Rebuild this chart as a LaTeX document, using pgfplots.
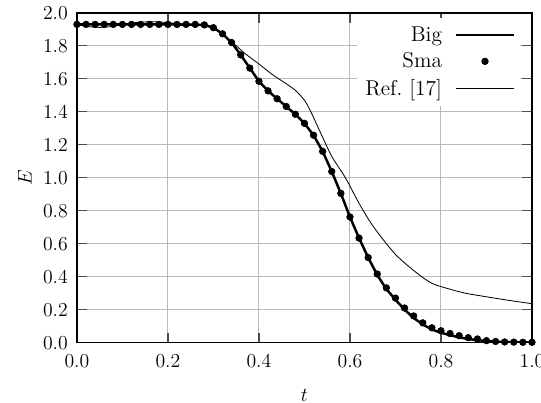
\documentclass[border=0pt]{standalone}
\usepackage{pgfplots}
\pgfplotsset{compat=1.18}
\newcommand{\bigf}{\fontsize{13}{15.6}\selectfont}
\begin{document}
\begin{tikzpicture}
\begin{axis}[
  scale only axis,
  width=276pt, height=200pt,
  xmin=0, xmax=1, ymin=0, ymax=2,
  xtick={0,0.2,...,1.0}, ytick={0,0.2,...,2.0},
  tick label style={font=\bigf},
  label style={font=\bigf},
  xticklabel style={yshift=-4pt, /pgf/number format/.cd, fixed, fixed zerofill, precision=1},
  yticklabel style={xshift=-2pt, /pgf/number format/.cd, fixed, fixed zerofill, precision=1},
  grid=major,
  grid style={gray!55, line width=0.6pt},
  major tick length=6pt,
  tick style={black!70, line width=0.8pt},
  axis line style={black, line width=0.9pt},
  xlabel={$t$}, ylabel={$E$},
  xlabel style={yshift=-6pt},
  legend style={draw=none, fill=white, at={(0.975,0.985)}, anchor=north east,
    row sep=1.5pt, inner sep=3pt, font=\bigf},
  legend cell align=right,
  legend plot pos=right,
  legend image code/.code={\path (0cm,0cm); \draw[mark repeat=2,mark phase=2,#1] plot coordinates {(0.2cm,0cm)(0.82cm,0cm)(1.44cm,0cm)};},
]
\addplot[black, line width=1.5pt, no marks] coordinates {
(0,1.93)(0.1,1.93)(0.2,1.93)(0.28,1.927)(0.30,1.91)(0.32,1.873)(0.34,1.82)(0.36,1.745)
(0.38,1.665)(0.40,1.585)(0.42,1.527)(0.44,1.479)(0.46,1.432)(0.48,1.385)(0.50,1.33)
(0.52,1.258)(0.54,1.16)(0.56,1.038)(0.58,0.905)(0.60,0.762)(0.62,0.634)(0.64,0.516)
(0.66,0.41)(0.68,0.325)(0.70,0.26)(0.72,0.2)(0.74,0.15)(0.76,0.11)(0.78,0.08)
(0.80,0.06)(0.82,0.045)(0.84,0.032)(0.86,0.022)(0.88,0.015)(0.90,0.01)(0.92,0.006)
(0.94,0.004)(0.96,0.003)(0.98,0.002)(1.0,0.002)
};
\addlegendentry{Big}
\addplot[only marks, mark=*, mark size=2pt, black] coordinates {
(0,1.93)(0.02,1.93)(0.04,1.93)(0.06,1.93)(0.08,1.93)(0.10,1.93)(0.12,1.93)(0.14,1.93)
(0.16,1.93)(0.18,1.93)(0.20,1.93)(0.22,1.93)(0.24,1.93)(0.26,1.93)(0.28,1.927)
(0.30,1.91)(0.32,1.873)(0.34,1.82)(0.36,1.745)(0.38,1.665)(0.40,1.585)(0.42,1.527)
(0.44,1.479)(0.46,1.432)(0.48,1.385)(0.50,1.33)(0.52,1.258)(0.54,1.16)(0.56,1.038)
(0.58,0.905)(0.60,0.762)(0.62,0.634)(0.64,0.516)(0.66,0.416)(0.68,0.332)(0.70,0.27)
(0.72,0.21)(0.74,0.162)(0.76,0.12)(0.78,0.09)(0.80,0.072)(0.82,0.055)(0.84,0.042)
(0.86,0.03)(0.88,0.022)(0.90,0.012)(0.92,0.007)(0.94,0.004)(0.96,0.003)(0.98,0.002)
(1.00,0.002)
};
\addlegendentry{Sma}
\addplot[black, line width=0.5pt, no marks, smooth, tension=0.5] coordinates {
(0,1.93)(0.02,1.918)(0.05,1.912)(0.08,1.918)(0.11,1.935)(0.15,1.945)(0.18,1.945)
(0.21,1.938)(0.25,1.93)(0.28,1.925)(0.31,1.89)(0.34,1.825)(0.37,1.752)(0.40,1.69)
(0.43,1.625)(0.46,1.57)(0.48,1.53)(0.50,1.47)(0.515,1.395)(0.535,1.275)(0.56,1.13)
(0.59,1.0)(0.62,0.845)(0.645,0.73)(0.67,0.635)(0.70,0.535)(0.73,0.46)(0.76,0.395)
(0.78,0.36)(0.80,0.34)(0.85,0.302)(0.90,0.278)(0.95,0.256)(1.0,0.236)
};
\addlegendentry{Ref.~[17]}
\coordinate (bbl) at (rel axis cs:-0.169,-0.182);
\coordinate (btr) at (rel axis cs:1.0198,1.039);
\end{axis}
\pgfresetboundingbox
\useasboundingbox (bbl) rectangle (btr);
\end{tikzpicture}
\end{document}
